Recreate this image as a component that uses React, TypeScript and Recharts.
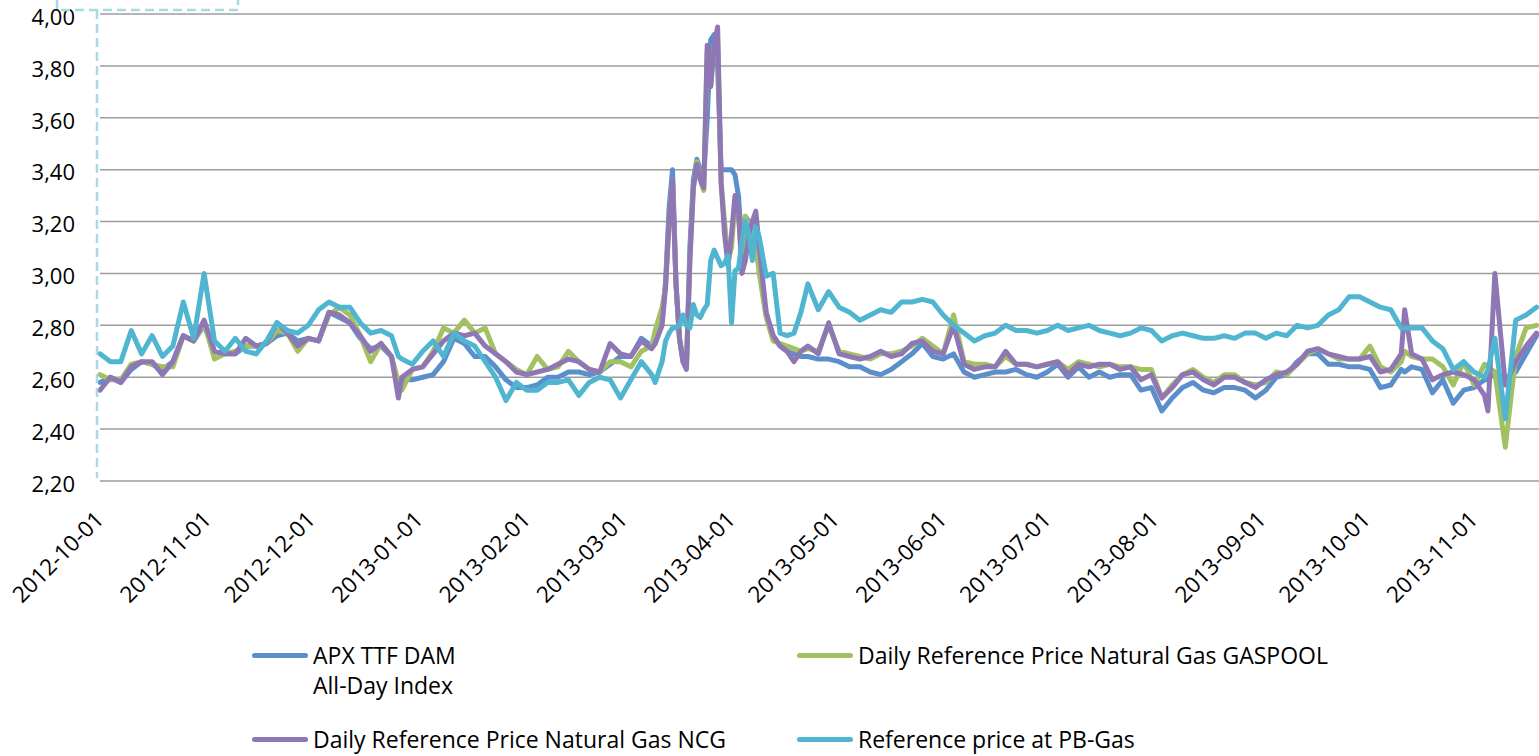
import { LineChart, Line, XAxis, YAxis, CartesianGrid, Legend } from "recharts"

// day offsets from 2012-10-01
const days = [
  0, 3, 6, 9, 12, 15, 18, 21, 24, 27, 30, 33, 36, 39, 42, 45, 48, 51, 54, 57, 60, 63, 66, 69, 72, 75, 78, 81, 84,
  86, 87,
  90, 93, 96, 99, 102, 105, 108, 111, 114, 117, 120, 123, 126, 129, 132, 135, 138, 141, 144, 147, 150, 153, 156, 159,
  160,
  162, 163, 164, 165, 166, 167, 168, 169, 170, 171, 172, 173, 174, 175, 176, 177, 178, 179, 180, 181, 182, 183, 184, 185,
  186, 187, 188, 189, 190,
  192, 194, 196, 198, 200, 202, 204,
  207, 210, 213, 216, 219, 222, 225, 228, 231, 234, 237, 240, 243, 246, 249, 252, 255, 258, 261, 264,
  267, 270, 273, 276, 279, 282, 285, 288, 291, 294, 297, 300, 303, 306, 309, 312, 315, 318, 321, 324,
  327, 330, 333, 336, 339, 342, 345, 348, 351, 354, 357, 360, 363, 366, 369, 372, 375,
  376,
  378, 381, 384, 387, 390, 393, 396, 399,
  400,
  402,
  405, 408, 411, 414,
]

const apx = [
  2.58, 2.60, 2.58, 2.63, 2.66, 2.65, 2.63, 2.66, 2.76, 2.74, 2.80, 2.70, 2.69, 2.69, 2.72, 2.72, 2.73, 2.76, 2.77, 2.74,
  2.75, 2.74, 2.85, 2.83, 2.81, 2.75, 2.71, 2.72, 2.68,
  2.57, 2.59,
  2.59, 2.60, 2.61, 2.66, 2.75, 2.73, 2.68, 2.68, 2.64, 2.59, 2.56, 2.56, 2.57, 2.60, 2.60, 2.62, 2.62, 2.61, 2.62, 2.65,
  2.68, 2.68, 2.75, 2.72,
  2.73,
  2.82, 2.97, 3.25, 3.40, 2.96, 2.75, 2.67, 2.64, 3.10, 3.36, 3.44, 3.40, 3.37, 3.60, 3.90, 3.92, 3.80, 3.40, 3.40, 3.40,
  3.40, 3.38, 3.30, 3.10, 3.22, 3.20, 3.08, 3.10, 3.02,
  2.84, 2.76, 2.72, 2.70, 2.69, 2.68, 2.68,
  2.67, 2.67, 2.66, 2.64, 2.64, 2.62, 2.61, 2.63, 2.66, 2.69, 2.73, 2.68, 2.67, 2.69, 2.62, 2.60, 2.61, 2.62, 2.62, 2.63,
  2.61, 2.60, 2.62, 2.65, 2.60, 2.64, 2.60, 2.62, 2.60, 2.61, 2.61, 2.55, 2.56, 2.47, 2.52, 2.56, 2.58, 2.55, 2.54, 2.56,
  2.56, 2.55, 2.52, 2.55, 2.60, 2.61, 2.66, 2.69, 2.69, 2.65, 2.65, 2.64, 2.64, 2.63, 2.56, 2.57, 2.63,
  2.62,
  2.64, 2.63, 2.54, 2.59, 2.50, 2.55, 2.56, 2.59,
  2.59,
  2.62,
  2.59, 2.62, 2.69, 2.76,
]

const gaspool = [
  2.61, 2.59, 2.59, 2.65, 2.66, 2.65, 2.64, 2.64, 2.76, 2.74, 2.81, 2.67, 2.69, 2.70, 2.72, 2.72, 2.73, 2.78, 2.77, 2.70,
  2.75, 2.74, 2.84, 2.87, 2.84, 2.76, 2.66, 2.73, 2.68,
  2.58, 2.55,
  2.63, 2.64, 2.70, 2.79, 2.77, 2.82, 2.77, 2.79, 2.69, 2.66, 2.63, 2.61, 2.68, 2.63, 2.64, 2.70, 2.66, 2.63, 2.62, 2.66,
  2.66, 2.64, 2.70, 2.72,
  2.78,
  2.87, 2.95, 3.20, 3.36, 2.96, 2.75, 2.66, 2.64, 3.05, 3.33, 3.43, 3.36, 3.32, 3.86, 3.72, 3.88, 3.90, 3.35, 3.20, 3.05,
  3.10, 3.28, 3.22, 3.05, 3.22, 3.18, 3.08, 3.12, 3.00,
  2.83, 2.74, 2.73, 2.72, 2.71, 2.70, 2.71,
  2.70, 2.80, 2.70, 2.69, 2.68, 2.67, 2.69, 2.69, 2.70, 2.72, 2.75, 2.72, 2.69, 2.84, 2.66, 2.65, 2.65, 2.64, 2.68, 2.65,
  2.65, 2.64, 2.65, 2.66, 2.63, 2.66, 2.65, 2.64, 2.65, 2.64, 2.64, 2.63, 2.63, 2.52, 2.57, 2.61, 2.63, 2.60, 2.58, 2.61,
  2.61, 2.58, 2.57, 2.58, 2.62, 2.61, 2.65, 2.69, 2.71, 2.69, 2.67, 2.67, 2.67, 2.72, 2.64, 2.62, 2.66,
  2.70,
  2.68, 2.67, 2.67, 2.64, 2.57, 2.66, 2.57, 2.65,
  2.64,
  2.62,
  2.33, 2.68, 2.79, 2.80,
]

const ncg = [
  2.55, 2.60, 2.58, 2.64, 2.66, 2.66, 2.61, 2.66, 2.76, 2.74, 2.82, 2.70, 2.69, 2.69, 2.75, 2.72, 2.73, 2.81, 2.77, 2.72,
  2.75, 2.74, 2.85, 2.84, 2.81, 2.76, 2.70, 2.73, 2.68,
  2.52, 2.60,
  2.63, 2.64, 2.69, 2.74, 2.77, 2.76, 2.77, 2.72, 2.69, 2.66, 2.62, 2.61, 2.62, 2.63, 2.65, 2.67, 2.66, 2.63, 2.62, 2.73,
  2.69, 2.68, 2.74, 2.71,
  2.73,
  2.80, 2.95, 3.20, 3.36, 2.96, 2.75, 2.66, 2.63, 3.05, 3.33, 3.42, 3.36, 3.33, 3.88, 3.72, 3.88, 3.95, 3.35, 3.15, 3.03,
  3.15, 3.30, 3.25, 3.00, 3.05, 3.15, 3.20, 3.24, 3.10,
  2.85, 2.76, 2.72, 2.70, 2.66, 2.70, 2.72,
  2.69, 2.81, 2.69, 2.68, 2.67, 2.68, 2.70, 2.68, 2.69, 2.73, 2.74, 2.70, 2.69, 2.80, 2.65, 2.63, 2.64, 2.64, 2.70, 2.65,
  2.65, 2.64, 2.65, 2.66, 2.61, 2.65, 2.64, 2.65, 2.65, 2.63, 2.64, 2.59, 2.61, 2.52, 2.56, 2.61, 2.62, 2.59, 2.57, 2.60,
  2.60, 2.58, 2.56, 2.59, 2.61, 2.62, 2.65, 2.70, 2.71, 2.69, 2.68, 2.67, 2.67, 2.68, 2.62, 2.63, 2.69,
  2.86,
  2.69, 2.67, 2.59, 2.61, 2.62, 2.61, 2.59, 2.53,
  2.47,
  3.00,
  2.57, 2.66, 2.72, 2.77,
]

const pbgas = [
  2.69, 2.66, 2.66, 2.78, 2.69, 2.76, 2.68, 2.72, 2.89, 2.75, 3.00, 2.74, 2.70, 2.75, 2.70, 2.69, 2.74, 2.81, 2.78, 2.77,
  2.80, 2.86, 2.89, 2.87, 2.87, 2.81, 2.77, 2.78, 2.76,
  2.68, 2.67,
  2.65, 2.70, 2.74, 2.68, 2.77, 2.74, 2.72, 2.66, 2.60, 2.51, 2.58, 2.55, 2.55, 2.58, 2.58, 2.59, 2.53, 2.58, 2.60, 2.59,
  2.52, 2.59, 2.66, 2.61,
  2.58,
  2.66, 2.74, 2.77, 2.79, 2.79, 2.80, 2.84, 2.80, 2.79, 2.88, 2.84, 2.83, 2.86, 2.88, 3.05, 3.09, 3.06, 3.03, 3.04, 3.07,
  2.81, 3.01, 3.02, 3.12, 3.20, 3.15, 3.05, 3.18, 3.14,
  2.99, 3.00, 2.77, 2.76, 2.77, 2.85, 2.96,
  2.86, 2.93, 2.87, 2.85, 2.82, 2.84, 2.86, 2.85, 2.89, 2.89, 2.90, 2.89, 2.84, 2.80, 2.77, 2.74, 2.76, 2.77, 2.80, 2.78,
  2.78, 2.77, 2.78, 2.80, 2.78, 2.79, 2.80, 2.78, 2.77, 2.76, 2.77, 2.79, 2.78, 2.74, 2.76, 2.77, 2.76, 2.75, 2.75, 2.76,
  2.75, 2.77, 2.77, 2.75, 2.77, 2.76, 2.80, 2.79, 2.80, 2.84, 2.86, 2.91, 2.91, 2.89, 2.87, 2.86, 2.79,
  2.79,
  2.79, 2.79, 2.74, 2.71, 2.63, 2.66, 2.62, 2.60,
  2.63,
  2.75,
  2.44, 2.82, 2.84, 2.87,
]

const tickDays = [0, 31, 61, 92, 123, 151, 182, 212, 243, 273, 304, 335, 365, 396]
const tickLabels = [
  "2012-10-01", "2012-11-01", "2012-12-01", "2013-01-01", "2013-02-01", "2013-03-01", "2013-04-01",
  "2013-05-01", "2013-06-01", "2013-07-01", "2013-08-01", "2013-09-01", "2013-10-01", "2013-11-01",
]
const yTicks = [2.2, 2.4, 2.6, 2.8, 3.0, 3.2, 3.4, 3.6, 3.8, 4.0]

const series = [
  { key: "apx", name: "APX TTF DAM All-Day Index", lines: ["APX TTF DAM", "All-Day Index"], color: "#5b8fcb" },
  { key: "gaspool", name: "Daily Reference Price Natural Gas GASPOOL", lines: ["Daily Reference Price Natural Gas GASPOOL"], color: "#a3c163" },
  { key: "ncg", name: "Daily Reference Price Natural Gas NCG", lines: ["Daily Reference Price Natural Gas NCG"], color: "#8e77b4" },
  { key: "pbgas", name: "Reference price at PB-Gas", lines: ["Reference price at PB-Gas"], color: "#4fb5d0" },
]

const data = days.map((d, i) => ({
  day: d,
  apx: apx[i],
  gaspool: gaspool[i],
  ncg: ncg[i],
  pbgas: pbgas[i],
}))

const FONT = "'Open Sans', Lato, sans-serif"

function DateTick({ x, y, payload }: any) {
  const i = tickDays.indexOf(payload.value)
  const ax = x - 1
  const ay = y + 34
  return (
    <text
      x={ax}
      y={ay}
      transform={`rotate(-45 ${ax} ${ay})`}
      textAnchor="end"
      dominantBaseline="central"
      fontSize={22.5}
      fill="#000"
    >
      {tickLabels[i]}
    </text>
  )
}

// legend slots: [left, top] relative to the legend box
const legendPos = [
  [252, 0],
  [797, 0],
  [252, 84],
  [797, 84],
]

function LegendBox() {
  return (
    <div style={{ position: "relative", width: 1539, height: 116, fontFamily: FONT, fontSize: 23, color: "#000" }}>
      {series.map((s, i) => (
        <div
          key={s.key}
          style={{ position: "absolute", left: legendPos[i][0], top: legendPos[i][1], display: "flex", alignItems: "flex-start" }}
        >
          <div style={{ width: 56, height: 5, borderRadius: 3, background: s.color, marginTop: 13, marginRight: 5 }} />
          <div style={{ lineHeight: "30px", whiteSpace: "nowrap" }}>
            {s.lines.map((l) => (
              <div key={l}>{l}</div>
            ))}
          </div>
        </div>
      ))}
    </div>
  )
}

export default function App() {
  return (
    <div style={{ position: "absolute", left: 0, top: 0, width: 1539, height: 756, overflow: "hidden", background: "#fff", fontFamily: FONT }}>
      <LineChart width={1540} height={756} data={data} margin={{ top: 14, right: 0, bottom: 0, left: 0 }}>
        <CartesianGrid vertical={false} stroke="#9d9d9d" strokeWidth={1.5} />
        <XAxis
          dataKey="day"
          type="number"
          domain={[0, 415]}
          ticks={tickDays}
          interval={0}
          tick={<DateTick />}
          tickSize={0}
          tickMargin={0}
          axisLine={false}
          tickLine={false}
          height={275}
        />
        <YAxis
          type="number"
          domain={[2.2, 4.0]}
          ticks={yTicks}
          interval={0}
          tickFormatter={(v: number) => v.toFixed(2).replace(".", ",")}
          tick={{ fontSize: 22, fill: "#000", dy: 3 }}
          tickSize={0}
          tickMargin={25}
          axisLine={false}
          tickLine={false}
          width={100}
        />
        <Legend
          layout="horizontal"
          verticalAlign="middle"
          align="center"
          content={() => <LegendBox />}
          wrapperStyle={{ top: 640, left: 0, width: 1539 }}
        />
        {series.map((s) => (
          <Line
            key={s.key}
            dataKey={s.key}
            name={s.name}
            stroke={s.color}
            strokeWidth={5}
            strokeLinejoin="round"
            strokeLinecap="round"
            dot={false}
            activeDot={false}
            isAnimationActive={false}
          />
        ))}
      </LineChart>
      <svg width={1539} height={756} style={{ position: "absolute", left: 0, top: 0, pointerEvents: "none" }}>
        <path d="M57 0 V10 H238 V0" fill="none" stroke="#a9dae2" strokeWidth={2.5} strokeDasharray="9 5" />
        <path d="M97 10 V478" fill="none" stroke="#a9dae2" strokeWidth={2.5} strokeDasharray="9 5" />
      </svg>
    </div>
  )
}
